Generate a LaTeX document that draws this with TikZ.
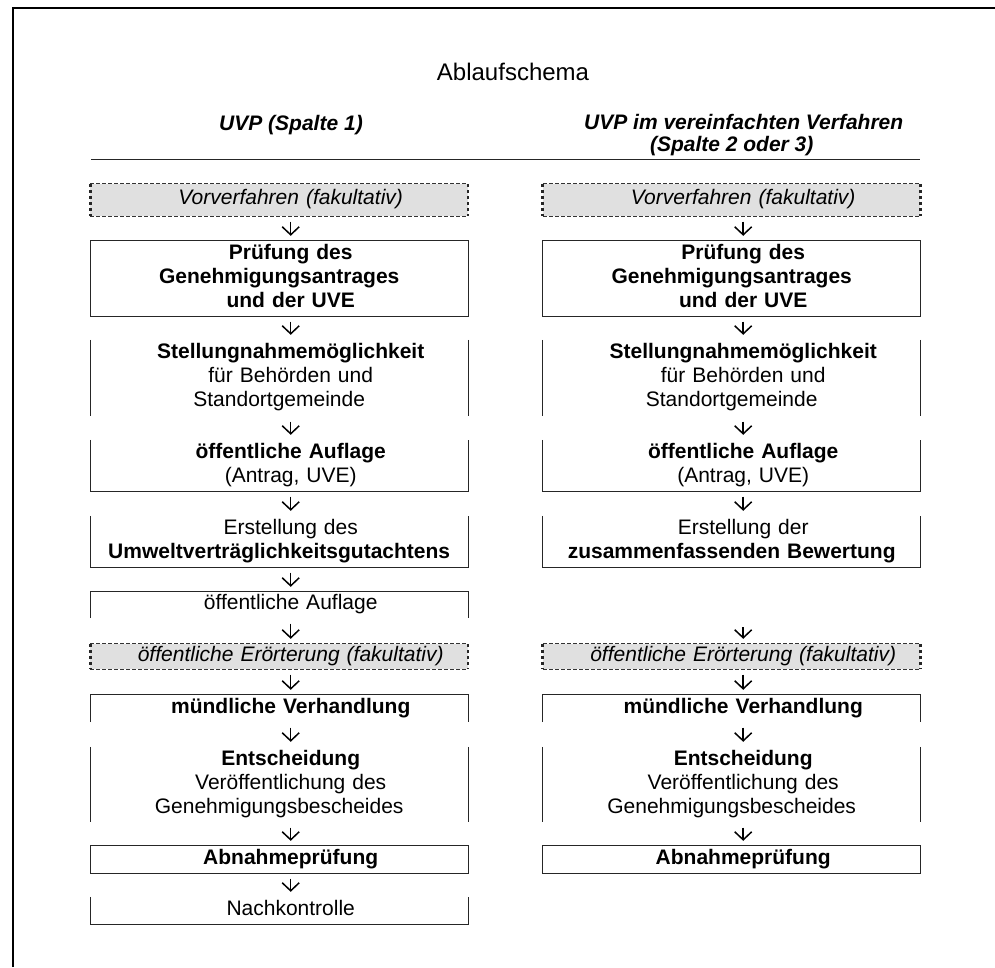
\documentclass[tikz,border=0pt]{standalone}
\usepackage{fontspec}
\setmainfont{Liberation Sans}
\usetikzlibrary{arrows.meta}
\newcommand{\shiftln}{\hspace*{23pt}}
\begin{document}
\begin{tikzpicture}[x=1pt,y=-1pt,
  cell/.style={inner sep=0pt, text width=377.5pt, align=center, font=\fontsize{21}{24}\selectfont, text=black},
  bline/.style={line width=1pt, draw=black!85},
  dtb/.style={line width=0.9pt, draw=black!80, dash pattern=on 4pt off 2pt},
  dside/.style={line width=2.6pt, draw=black!85, dash pattern=on 3pt off 3pt},
  dfill/.style={fill=black!12},
  arr/.style={-{Straight Barb[length=8pt,width=17pt]}, line width=1.5pt, shorten <=5.5pt, shorten >=5pt},
  head/.style={font=\fontsize{21}{22.5}\selectfont\bfseries\itshape}]
\useasboundingbox (0,0) rectangle (995,967);

% outer frame (cut off at right and bottom)
\draw[line width=2pt] (13,967) -- (13,7.7) -- (995,7.7);

% title and headers
\node[anchor=base, font=\fontsize{24}{28}\selectfont] (title) at (513,80) {Ablaufschema};
\node[anchor=base, head] (h1) at (279.5,130) {\shiftln UVP (Spalte 1)};
\node[head, align=center, inner sep=0pt] (h2) at (731.7,136.2) {\strut\hspace*{24pt}UVP im vereinfachten Verfahren\\\strut(Spalte 2 oder 3)};
\draw[line width=1pt, black!85] (91,159.3) -- (920,159.3);

% ================= column 1 =================
\node[cell, dfill, minimum height=32pt] (v1) at (279.2,200) {\strut\shiftln\textit{Vorverfahren (fakultativ)}};
\node[cell, minimum height=75pt] (p1) at (279.2,278.5) {\strut\shiftln\textbf{Prüfung des}\\\strut\textbf{Genehmigungsantrages}\\\strut\shiftln\textbf{und der UVE}};
\node[cell, minimum height=76pt] (s1) at (279.2,378) {\strut\shiftln\textbf{Stellungnahmemöglichkeit}\\\strut\shiftln für Behörden und\\\strut Standortgemeinde};
\node[cell, minimum height=51pt] (a1) at (279.2,465.5) {\strut\shiftln\textbf{öffentliche Auflage}\\\strut\shiftln(Antrag, UVE)};
\node[cell, minimum height=51pt] (e1) at (279.2,541.5) {\strut\shiftln Erstellung des\\\strut\textbf{Umweltverträglichkeitsgutachtens}};
\node[cell, minimum height=26pt] (o1) at (279.2,605) {\strut\shiftln öffentliche Auflage};
\node[cell, dfill, minimum height=25pt] (d1) at (279.2,656.5) {\strut\shiftln\textit{öffentliche Erörterung (fakultativ)}};
\node[cell, minimum height=27pt] (m1) at (279.2,708.5) {\strut\shiftln\textbf{mündliche Verhandlung}};
\node[cell, minimum height=75pt] (en1) at (279.2,784.5) {\strut\shiftln\textbf{Entscheidung}\\\strut\shiftln Veröffentlichung des\\\strut Genehmigungsbescheides};
\node[cell, minimum height=27pt] (ab1) at (279.2,859.5) {\strut\shiftln\textbf{Abnahmeprüfung}};
\node[cell, minimum height=27pt] (n1) at (279.2,910.5) {\strut\shiftln Nachkontrolle};

% box edges column 1
\draw[dtb] (v1.north west) -- (v1.north east) (v1.south west) -- (v1.south east);
\draw[dside] (v1.north west) -- (v1.south west) (v1.north east) -- (v1.south east);
\draw[bline] (p1.north west) rectangle (p1.south east);
\draw[bline] (s1.north west) -- (s1.south west) (s1.north east) -- (s1.south east);
\draw[bline] (a1.north west) -- (a1.south west) -- (a1.south east) -- (a1.north east);
\draw[bline] (e1.north west) -- (e1.south west) -- (e1.south east) -- (e1.north east);
\draw[bline] (o1.south west) -- (o1.north west) -- (o1.north east) -- (o1.south east);
\draw[dtb] (d1.north west) -- (d1.north east) (d1.south west) -- (d1.south east);
\draw[dside] (d1.north west) -- (d1.south west) (d1.north east) -- (d1.south east);
\draw[bline] (m1.south west) -- (m1.north west) -- (m1.north east) -- (m1.south east);
\draw[bline] (en1.north west) -- (en1.south west) (en1.north east) -- (en1.south east);
\draw[bline] (ab1.north west) rectangle (ab1.south east);
\draw[bline] (n1.north west) -- (n1.south west) -- (n1.south east) -- (n1.north east);

% arrows column 1
\draw[arr] ([xshift=11.5pt]v1.south) -- ([xshift=11.5pt]p1.north);
\draw[arr] ([xshift=11.5pt]p1.south) -- ([xshift=11.5pt]s1.north);
\draw[arr] ([xshift=11.5pt]s1.south) -- ([xshift=11.5pt]a1.north);
\draw[arr] ([xshift=11.5pt]a1.south) -- ([xshift=11.5pt]e1.north);
\draw[arr] ([xshift=11.5pt]e1.south) -- ([xshift=11.5pt]o1.north);
\draw[arr] ([xshift=11.5pt]o1.south) -- ([xshift=11.5pt]d1.north);
\draw[arr] ([xshift=11.5pt]d1.south) -- ([xshift=11.5pt]m1.north);
\draw[arr] ([xshift=11.5pt]m1.south) -- ([xshift=11.5pt]en1.north);
\draw[arr] ([xshift=11.5pt]en1.south) -- ([xshift=11.5pt]ab1.north);
\draw[arr] ([xshift=11.5pt]ab1.south) -- ([xshift=11.5pt]n1.north);

% ================= column 2 =================
\node[cell, dfill, minimum height=32pt] (v2) at (731.7,200) {\strut\shiftln\textit{Vorverfahren (fakultativ)}};
\node[cell, minimum height=75pt] (p2) at (731.7,278.5) {\strut\shiftln\textbf{Prüfung des}\\\strut\textbf{Genehmigungsantrages}\\\strut\shiftln\textbf{und der UVE}};
\node[cell, minimum height=76pt] (s2) at (731.7,378) {\strut\shiftln\textbf{Stellungnahmemöglichkeit}\\\strut\shiftln für Behörden und\\\strut Standortgemeinde};
\node[cell, minimum height=51pt] (a2) at (731.7,465.5) {\strut\shiftln\textbf{öffentliche Auflage}\\\strut\shiftln(Antrag, UVE)};
\node[cell, minimum height=51pt] (e2) at (731.7,541.5) {\strut\shiftln Erstellung der\\\strut\textbf{zusammenfassenden Bewertung}};
\node[cell, dfill, minimum height=25pt] (d2) at (731.7,656.5) {\strut\shiftln\textit{öffentliche Erörterung (fakultativ)}};
\node[cell, minimum height=27pt] (m2) at (731.7,708.5) {\strut\shiftln\textbf{mündliche Verhandlung}};
\node[cell, minimum height=75pt] (en2) at (731.7,784.5) {\strut\shiftln\textbf{Entscheidung}\\\strut\shiftln Veröffentlichung des\\\strut Genehmigungsbescheides};
\node[cell, minimum height=27pt] (ab2) at (731.7,859.5) {\strut\shiftln\textbf{Abnahmeprüfung}};

% box edges column 2
\draw[dtb] (v2.north west) -- (v2.north east) (v2.south west) -- (v2.south east);
\draw[dside] (v2.north west) -- (v2.south west) (v2.north east) -- (v2.south east);
\draw[bline] (p2.north west) rectangle (p2.south east);
\draw[bline] (s2.north west) -- (s2.south west) (s2.north east) -- (s2.south east);
\draw[bline] (a2.north west) -- (a2.south west) -- (a2.south east) -- (a2.north east);
\draw[bline] (e2.north west) -- (e2.south west) -- (e2.south east) -- (e2.north east);
\draw[dtb] (d2.north west) -- (d2.north east) (d2.south west) -- (d2.south east);
\draw[dside] (d2.north west) -- (d2.south west) (d2.north east) -- (d2.south east);
\draw[bline] (m2.south west) -- (m2.north west) -- (m2.north east) -- (m2.south east);
\draw[bline] (en2.north west) -- (en2.south west) (en2.north east) -- (en2.south east);
\draw[bline] (ab2.north west) rectangle (ab2.south east);

% arrows column 2
\draw[arr] ([xshift=11.5pt]v2.south) -- ([xshift=11.5pt]p2.north);
\draw[arr] ([xshift=11.5pt]p2.south) -- ([xshift=11.5pt]s2.north);
\draw[arr] ([xshift=11.5pt]s2.south) -- ([xshift=11.5pt]a2.north);
\draw[arr] ([xshift=11.5pt]a2.south) -- ([xshift=11.5pt]e2.north);
\draw[arr, shorten <=60pt] ([xshift=11.5pt]e2.south) -- ([xshift=11.5pt]d2.north);
\draw[arr] ([xshift=11.5pt]d2.south) -- ([xshift=11.5pt]m2.north);
\draw[arr] ([xshift=11.5pt]m2.south) -- ([xshift=11.5pt]en2.north);
\draw[arr] ([xshift=11.5pt]en2.south) -- ([xshift=11.5pt]ab2.north);
\end{tikzpicture}
\end{document}
